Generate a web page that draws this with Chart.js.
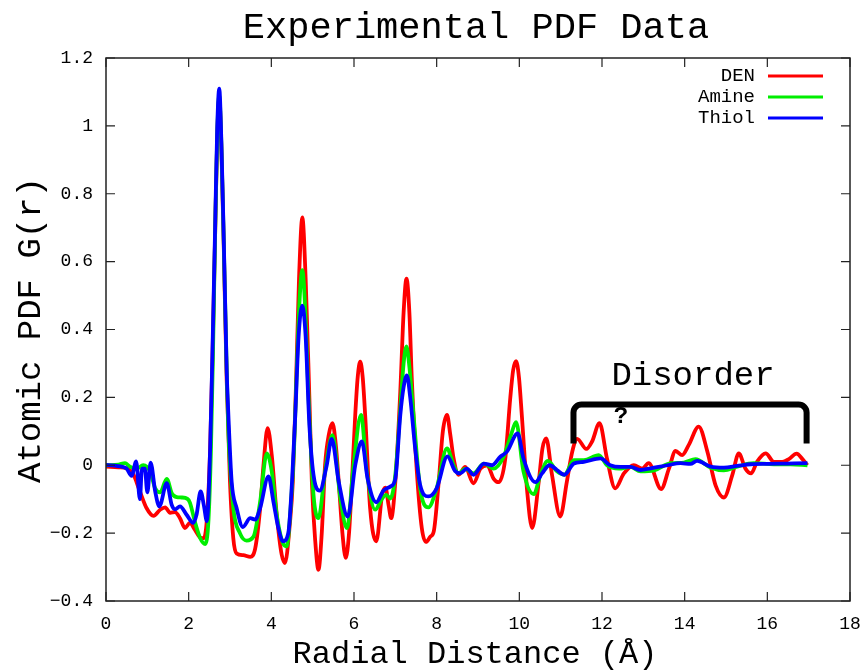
<!DOCTYPE html>
<html>
<head>
<meta charset="utf-8">
<script src="https://cdn.jsdelivr.net/npm/chart.js@4/dist/chart.umd.min.js"></script>
<style>
html,body{margin:0;padding:0;background:#fff;}
canvas{display:block;}
</style>
</head>
<body>
<canvas id="c" width="867" height="672"></canvas>
<script>
const seriesNames = ["DEN", "Amine", "Thiol"];
const seriesColors = ["#ff0000", "#00ee00", "#0000ff"];
const xTicks = [0, 2, 4, 6, 8, 10, 12, 14, 16, 18];
const yTicks = [-0.4, -0.2, 0, 0.2, 0.4, 0.6, 0.8, 1, 1.2];

const denPoints = [[0,-0.004],[0.3,-0.006],[0.5,-0.01],[0.65,-0.024],[0.82,-0.077],[0.98,-0.126],[1.15,-0.149],[1.31,-0.131],[1.43,-0.124],[1.55,-0.14],[1.67,-0.138],[1.79,-0.156],[1.91,-0.185],[2.03,-0.17],[2.15,-0.19],[2.28,-0.213],[2.36,-0.215],[2.44,-0.16],[2.52,0.05],[2.58,0.34],[2.64,0.68],[2.69,0.96],[2.74,1.08],[2.79,0.94],[2.85,0.64],[2.92,0.25],[3.0,-0.05],[3.08,-0.215],[3.16,-0.26],[3.32,-0.265],[3.49,-0.27],[3.61,-0.245],[3.73,-0.126],[3.81,0.0],[3.91,0.109],[4.01,0.03],[4.13,-0.145],[4.25,-0.263],[4.33,-0.288],[4.45,-0.17],[4.52,-0.048],[4.60,0.25],[4.67,0.55],[4.75,0.73],[4.83,0.55],[4.92,0.2],[4.98,-0.048],[5.06,-0.22],[5.14,-0.308],[5.22,-0.2],[5.30,0.0],[5.39,0.09],[5.48,0.124],[5.56,0.06],[5.63,-0.048],[5.72,-0.2],[5.80,-0.273],[5.88,-0.2],[5.95,-0.048],[6.03,0.148],[6.09,0.26],[6.15,0.305],[6.21,0.26],[6.27,0.148],[6.39,-0.126],[6.54,-0.224],[6.68,-0.087],[6.76,-0.066],[6.84,-0.12],[6.90,-0.156],[7.0,-0.048],[7.12,0.217],[7.2,0.45],[7.27,0.55],[7.34,0.45],[7.40,0.25],[7.52,-0.018],[7.64,-0.185],[7.74,-0.226],[7.85,-0.21],[7.93,-0.195],[8.05,-0.048],[8.15,0.1],[8.25,0.148],[8.33,0.09],[8.41,0.02],[8.53,-0.028],[8.69,-0.005],[8.89,-0.053],[9.06,-0.01],[9.22,0.0],[9.38,-0.04],[9.5,-0.05],[9.66,0.02],[9.78,0.197],[9.85,0.28],[9.92,0.307],[9.99,0.26],[10.06,0.148],[10.19,-0.077],[10.31,-0.185],[10.47,-0.048],[10.56,0.05],[10.65,0.079],[10.79,-0.028],[10.99,-0.151],[11.15,-0.048],[11.28,0.04],[11.40,0.078],[11.62,0.048],[11.76,0.07],[11.94,0.124],[12.12,0.02],[12.32,-0.068],[12.53,-0.024],[12.77,0.0],[12.97,-0.01],[13.13,0.006],[13.43,-0.07],[13.62,-0.01],[13.78,0.042],[13.94,0.03],[14.10,0.06],[14.34,0.114],[14.55,0.04],[14.75,-0.06],[14.95,-0.095],[15.15,-0.03],[15.31,0.035],[15.47,-0.01],[15.61,-0.024],[15.75,0.01],[15.96,0.035],[16.16,0.01],[16.36,0.01],[16.52,0.018],[16.71,0.034],[16.85,0.018],[16.97,0.0]];

const aminePoints = [[0,0.0],[0.3,0.002],[0.46,0.006],[0.58,-0.004],[0.74,-0.01],[0.9,0.0],[1.07,-0.019],[1.19,-0.068],[1.31,-0.08],[1.47,-0.04],[1.59,-0.082],[1.71,-0.094],[1.83,-0.095],[1.97,-0.099],[2.03,-0.11],[2.15,-0.166],[2.28,-0.215],[2.40,-0.232],[2.48,-0.16],[2.54,0.05],[2.59,0.34],[2.64,0.68],[2.69,0.97],[2.74,1.09],[2.79,0.95],[2.85,0.65],[2.92,0.28],[2.96,0.1],[3.08,-0.126],[3.24,-0.2],[3.40,-0.222],[3.57,-0.21],[3.73,-0.107],[3.89,0.035],[4.01,-0.018],[4.13,-0.145],[4.29,-0.232],[4.37,-0.239],[4.47,-0.12],[4.55,0.05],[4.62,0.3],[4.68,0.48],[4.75,0.575],[4.82,0.46],[4.9,0.2],[5.02,-0.087],[5.14,-0.156],[5.30,-0.018],[5.48,0.089],[5.67,-0.097],[5.83,-0.185],[5.99,0.0],[6.17,0.148],[6.31,-0.018],[6.51,-0.131],[6.68,-0.098],[6.78,-0.087],[6.88,-0.098],[7.0,-0.028],[7.12,0.166],[7.2,0.3],[7.27,0.35],[7.34,0.29],[7.44,0.148],[7.60,-0.068],[7.80,-0.124],[8.0,-0.068],[8.25,0.05],[8.41,0.0],[8.53,-0.024],[8.69,-0.01],[8.89,-0.024],[9.14,0.005],[9.38,-0.01],[9.62,0.025],[9.80,0.09],[9.92,0.127],[10.10,-0.018],[10.35,-0.085],[10.51,-0.028],[10.69,0.013],[10.91,-0.018],[11.09,-0.028],[11.32,0.015],[11.56,0.015],[11.92,0.03],[12.12,0.0],[12.41,-0.01],[12.69,-0.005],[12.93,-0.018],[13.26,-0.015],[13.66,0.006],[13.98,0.008],[14.26,0.018],[14.63,-0.007],[14.95,-0.015],[15.27,-0.004],[15.67,0.006],[16.16,0.003],[16.56,0.003],[16.97,0.0]];

const thiolPoints = [[0,0.001],[0.4,-0.005],[0.5,-0.01],[0.62,-0.031],[0.73,0.011],[0.82,-0.10],[0.87,-0.01],[0.94,-0.01],[1.0,-0.08],[1.08,0.008],[1.19,-0.077],[1.29,-0.121],[1.47,-0.053],[1.59,-0.117],[1.67,-0.13],[1.79,-0.121],[1.95,-0.146],[2.11,-0.17],[2.19,-0.146],[2.29,-0.077],[2.37,-0.12],[2.44,-0.165],[2.52,0.05],[2.58,0.36],[2.64,0.70],[2.69,0.99],[2.74,1.11],[2.79,0.96],[2.85,0.66],[2.92,0.28],[2.96,0.15],[3.04,-0.048],[3.16,-0.126],[3.31,-0.182],[3.49,-0.156],[3.61,-0.16],[3.73,-0.126],[3.93,-0.033],[4.05,-0.107],[4.17,-0.185],[4.28,-0.224],[4.41,-0.2],[4.5,-0.05],[4.58,0.15],[4.66,0.38],[4.75,0.47],[4.83,0.38],[4.92,0.12],[5.02,-0.028],[5.17,-0.075],[5.34,0.0],[5.46,0.078],[5.63,-0.048],[5.85,-0.151],[6.03,0.0],[6.19,0.07],[6.33,-0.04],[6.54,-0.109],[6.71,-0.075],[6.88,-0.063],[7.0,-0.04],[7.12,0.148],[7.2,0.23],[7.28,0.265],[7.36,0.2],[7.48,0.05],[7.60,-0.058],[7.80,-0.092],[8.0,-0.068],[8.26,0.026],[8.45,-0.018],[8.57,-0.024],[8.73,-0.01],[8.89,-0.028],[9.14,0.005],[9.34,0.0],[9.54,0.025],[9.70,0.04],[9.96,0.094],[10.10,0.02],[10.39,-0.05],[10.55,-0.024],[10.73,0.0],[10.91,-0.014],[11.09,-0.028],[11.32,0.005],[11.56,0.01],[11.96,0.02],[12.20,0.0],[12.45,-0.005],[12.69,-0.005],[12.93,-0.014],[13.18,-0.009],[13.58,0.0],[13.90,0.006],[14.14,0.004],[14.30,0.013],[14.63,-0.004],[14.95,-0.007],[15.27,-0.002],[15.60,0.003],[16.0,0.004],[16.48,0.005],[16.97,0.006]];

const seriesPoints = [denPoints, aminePoints, thiolPoints];

const MONO = '"Liberation Mono", "DejaVu Sans Mono", monospace';

const framePlugin = {
  id: 'frame',
  afterDatasetsDraw(chart) {
    const ctx = chart.ctx, a = chart.chartArea;
    const xs = chart.scales.x, ys = chart.scales.y;
    ctx.save();
    ctx.strokeStyle = '#222';
    ctx.lineWidth = 1.5;
    ctx.strokeRect(a.left, a.top, a.right - a.left, a.bottom - a.top);
    ctx.lineWidth = 1.2;
    ctx.beginPath();
    xTicks.forEach(v => {
      const p = xs.getPixelForValue(v);
      ctx.moveTo(p, a.bottom); ctx.lineTo(p, a.bottom - 9);
      ctx.moveTo(p, a.top); ctx.lineTo(p, a.top + 9);
    });
    yTicks.forEach(v => {
      const p = ys.getPixelForValue(v);
      ctx.moveTo(a.left, p); ctx.lineTo(a.left + 9, p);
      ctx.moveTo(a.right, p); ctx.lineTo(a.right - 9, p);
    });
    ctx.stroke();

    // titles
    ctx.fillStyle = '#000';
    ctx.textAlign = 'center';
    ctx.textBaseline = 'middle';
    ctx.font = '37px ' + MONO;
    ctx.fillText('Experimental PDF Data', 476, 28);
    ctx.font = '32px ' + MONO;
    ctx.fillText('Radial Distance (Å)', 475, 655);
    ctx.save();
    ctx.translate(31, 330);
    ctx.rotate(-Math.PI / 2);
    ctx.font = '34px ' + MONO;
    ctx.fillText('Atomic PDF G(r)', 0, 0);
    ctx.restore();

    // legend
    ctx.font = '19px ' + MONO;
    ctx.textAlign = 'right';
    seriesNames.forEach((n, i) => {
      const y = 76 + i * 21;
      ctx.fillStyle = '#000';
      ctx.fillText(n, 755, y);
      ctx.strokeStyle = seriesColors[i];
      ctx.lineWidth = 3;
      ctx.beginPath();
      ctx.moveTo(768, y); ctx.lineTo(823, y);
      ctx.stroke();
    });

    // annotation: Disorder bracket
    const bx1 = xs.getPixelForValue(11.31), bx2 = xs.getPixelForValue(16.95);
    const byTop = ys.getPixelForValue(0.179), byBot = ys.getPixelForValue(0.064);
    ctx.strokeStyle = '#000';
    ctx.lineWidth = 6;
    ctx.lineJoin = 'round';
    ctx.lineCap = 'butt';
    ctx.beginPath();
    ctx.moveTo(bx1, byBot);
    ctx.arcTo(bx1, byTop, bx1 + 12, byTop, 8);
    ctx.arcTo(bx2, byTop, bx2, byBot, 8);
    ctx.lineTo(bx2, byBot);
    ctx.stroke();
    ctx.fillStyle = '#000';
    ctx.textAlign = 'center';
    ctx.font = '34px ' + MONO;
    ctx.fillText('Disorder', 693, 376);
    ctx.font = 'bold 24px ' + MONO;
    ctx.fillText('?', 621, 417);
    ctx.restore();
  }
};

new Chart(document.getElementById('c'), {
  type: 'line',
  data: {
    datasets: seriesNames.map((n, i) => ({
      label: n,
      data: seriesPoints[i].map(p => ({x: p[0], y: p[1]})),
      borderColor: seriesColors[i],
      borderWidth: 3.8,
      pointRadius: 0,
      fill: false,
      cubicInterpolationMode: 'monotone',
      order: 3 - i
    }))
  },
  options: {
    responsive: false,
    animation: false,
    devicePixelRatio: 1,
    layout: { padding: { top: 58, right: 17, left: 0, bottom: 0 } },
    plugins: { legend: { display: false }, tooltip: { enabled: false }, title: { display: false } },
    scales: {
      x: {
        type: 'linear', min: 0, max: 18,
        afterFit: s => { s.height = 71; s.paddingLeft = 0; s.paddingRight = 0; },
        afterBuildTicks: s => { s.ticks = xTicks.map(v => ({value: v})); },
        grid: { display: false, drawTicks: false },
        border: { display: false },
        ticks: { color: '#000', padding: 12, font: { family: MONO, size: 18 }, maxRotation: 0 }
      },
      y: {
        type: 'linear', min: -0.4, max: 1.2,
        afterFit: s => { s.width = 106; s.paddingTop = 0; s.paddingBottom = 0; },
        afterBuildTicks: s => { s.ticks = yTicks.map(v => ({value: v})); },
        grid: { display: false, drawTicks: false },
        border: { display: false },
        ticks: { color: '#000', padding: 13, font: { family: MONO, size: 18 },
          callback: v => (Math.abs(v) < 1e-9 ? '0' : (v < 0 ? '\u2212' + (-v).toString() : v.toString())) }
      }
    }
  },
  plugins: [framePlugin]
});
</script>
</body>
</html>
